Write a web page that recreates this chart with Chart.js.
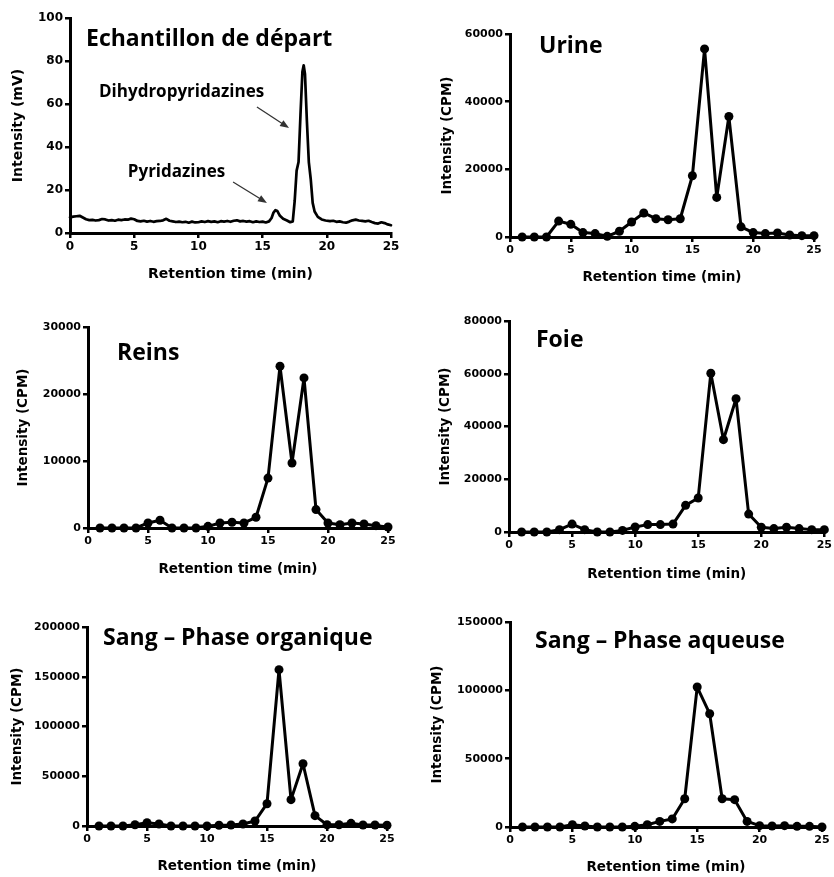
<!DOCTYPE html>
<html><head><meta charset="utf-8">
<script src="https://cdn.jsdelivr.net/npm/chart.js@4.4.1/dist/chart.umd.min.js"></script>
<style>
html,body{margin:0;padding:0;background:#fff;}
body{width:834px;height:877px;position:relative;overflow:hidden;}
canvas{position:absolute;}
</style></head><body>
<canvas id="c1"></canvas><canvas id="c2"></canvas><canvas id="c3"></canvas>
<canvas id="c4"></canvas><canvas id="c5"></canvas><canvas id="c6"></canvas>
<script>
// ---- Data ----
// Panel 1: continuous chromatogram (retention time in min, intensity in mV)
const startTime = [0,0.25,0.5,0.75,1,1.25,1.5,1.75,2,2.25,2.5,2.75,3,3.25,3.5,3.75,4,4.25,4.5,4.75,5,5.25,5.5,5.75,6,6.25,6.5,6.75,7,7.25,7.5,7.75,8,8.25,8.5,8.75,9,9.25,9.5,9.75,10,10.25,10.5,10.75,11,11.25,11.5,11.75,12,12.25,12.5,12.75,13,13.25,13.5,13.75,14,14.25,14.5,14.75,15,15.25,15.5,15.7,15.85,16,16.15,16.35,16.6,16.9,17.15,17.35,17.5,17.65,17.8,17.95,18.1,18.2,18.3,18.45,18.6,18.75,18.9,19.05,19.3,19.6,19.9,20.25,20.5,20.75,21,21.25,21.5,21.75,22,22.25,22.5,22.75,23,23.25,23.5,23.75,24,24.25,24.5,24.75,25];
const startSignal = [7.2,7.6,7.8,8.0,7.2,6.4,6.0,6.1,5.8,6.0,6.5,6.3,5.8,6.0,5.7,6.2,6.0,6.3,6.2,6.7,6.4,5.6,5.4,5.7,5.3,5.6,5.2,5.5,5.6,5.9,6.6,5.7,5.4,5.1,5.3,5.0,5.2,4.8,5.3,4.9,5.0,5.4,5.1,5.5,5.2,5.4,5.0,5.5,5.3,5.6,5.2,5.7,5.9,5.4,5.6,5.3,5.5,5.0,5.4,5.1,5.3,4.9,5.4,7.0,9.5,10.6,10.2,8.0,6.6,5.8,5.0,5.4,15,29,33,55,75,78,74,52,33,25,14,10,7.5,6.3,5.8,5.5,5.7,5.2,5.4,5.0,4.8,5.3,5.9,6.2,5.8,5.6,5.4,5.7,5.1,4.6,4.4,5.0,4.6,4.0,3.6];
// Panels 2-6: fractions (min) and radioactivity (CPM)
const fractions = [1,2,3,4,5,6,7,8,9,10,11,12,13,14,15,16,17,18,19,20,21,22,23,24,25];
const urine = [0,0,0,4700,3750,1300,1000,200,1700,4450,7100,5400,5100,5400,18100,55600,11700,35600,3000,1300,1000,1200,600,400,400];
const reins = [0,0,0,0,750,1150,0,0,0,250,750,850,750,1600,7450,24150,9700,22400,2750,750,500,750,600,350,150];
const foie = [0,0,0,900,3000,900,0,0,600,1900,2800,2800,3000,10100,12900,60200,35000,50500,6800,1800,1300,1800,1300,900,900];
const sangOrganique = [0,0,0,1300,3300,2000,0,0,0,0,700,1000,2000,5000,22400,157100,26500,62600,10400,1300,1300,2700,1000,1000,700];
const sangAqueuse = [0,0,0,0,1700,700,0,0,0,500,1700,4100,5900,20700,102400,82900,20700,20000,4100,1000,700,1000,500,500,0];
// Tick values
const xTicks = [0,5,10,15,20,25];
const yTicksStart = [0,20,40,60,80,100];
const yTicksUrine = [0,20000,40000,60000];
const yTicksReins = [0,10000,20000,30000];
const yTicksFoie = [0,20000,40000,60000,80000];
const yTicksSangOrg = [0,50000,100000,150000,200000];
const yTicksSangAq = [0,50000,100000,150000];
// Texts
const panelTitles = ["Echantillon de départ","Urine","Reins","Foie","Sang – Phase organique","Sang – Phase aqueuse"];
const xTitle = "Retention time (min)";
const yTitleMV = "Intensity (mV)";
const yTitleCPM = "Intensity (CPM)";

Chart.defaults.color = '#000';

const panelTitlePlugin = {
  id:'panelTitle',
  afterDraw(chart, args, o){
    if(!o || !o.text) return;
    const ctx = chart.ctx;
    ctx.save();
    ctx.fillStyle = '#000';
    ctx.font = 'bold ' + o.size + 'px "Open Sans"';
    ctx.textBaseline = 'alphabetic';
    ctx.textAlign = 'left';
    ctx.fillText(o.text, o.x, o.y);
    ctx.restore();
  }
};
const annotPlugin = {
  id:'annot',
  afterDraw(chart, args, o){
    if(!o || !o.items) return;
    const ctx = chart.ctx, xs = chart.scales.x, ys = chart.scales.y;
    ctx.save();
    for(const it of o.items){
      ctx.fillStyle = '#000';
      ctx.font = 'bold 17px "Open Sans"';
      ctx.textBaseline = 'alphabetic';
      ctx.fillText(it.label, xs.getPixelForValue(it.lx), ys.getPixelForValue(it.ly));
      const x1 = xs.getPixelForValue(it.a[0]), y1 = ys.getPixelForValue(it.a[1]);
      const x2 = xs.getPixelForValue(it.a[2]), y2 = ys.getPixelForValue(it.a[3]);
      const ang = Math.atan2(y2-y1, x2-x1);
      ctx.strokeStyle = '#333'; ctx.fillStyle = '#333'; ctx.lineWidth = 1.3;
      ctx.beginPath(); ctx.moveTo(x1,y1); ctx.lineTo(x2 - 6*Math.cos(ang), y2 - 6*Math.sin(ang)); ctx.stroke();
      ctx.beginPath();
      ctx.moveTo(x2,y2);
      ctx.lineTo(x2 - 9*Math.cos(ang) + 3.5*Math.sin(ang), y2 - 9*Math.sin(ang) - 3.5*Math.cos(ang));
      ctx.lineTo(x2 - 9*Math.cos(ang) - 3.5*Math.sin(ang), y2 - 9*Math.sin(ang) + 3.5*Math.cos(ang));
      ctx.closePath(); ctx.fill();
    }
    ctx.restore();
  }
};

function makePanel(id, cfg){
  const c = document.getElementById(id);
  c.width = cfg.box.w; c.height = cfg.box.h;
  c.style.left = cfg.box.left + 'px'; c.style.top = cfg.box.top + 'px';
  const A = {l: cfg.area.l - cfg.box.left, t: cfg.area.t - cfg.box.top, r: cfg.area.r - cfg.box.left, b: cfg.area.b - cfg.box.top};
  const lh = cfg.titleSize * 1.2;
  const padBottom = Math.max(0, cfg.box.h - lh/2 - (cfg.xTitleY - cfg.box.top));
  const padTopY = Math.max(0, (cfg.yTitleX - cfg.box.left) - lh/2);
  const tickFont = {family:'DejaVu Sans', weight:'bold', size: cfg.tickSize};
  const titleFont = {family:'DejaVu Sans', weight:'bold', size: cfg.titleSize, lineHeight: 1.2};
  const axisCommon = {
    grid:{display:true, drawOnChartArea:false, drawTicks:true, tickLength:5, lineWidth:2.5, color:'#000'},
    border:{display:true, width:3, color:'#000'}
  };
  return new Chart(c, {
    type:'line',
    data:{datasets:[{
      data: cfg.xs.map((x,i)=>({x:x, y:cfg.ys[i]})),
      borderColor:'#000', borderWidth: cfg.lineWidth, borderJoinStyle:'round', borderCapStyle:'round',
      pointRadius: cfg.pointRadius, pointBackgroundColor:'#000', pointBorderWidth:0,
      tension:0, fill:false, clip:false
    }]},
    plugins:[panelTitlePlugin, annotPlugin],
    options:{
      responsive:false, animation:false, devicePixelRatio:1, events:[],
      layout:{padding:{left:0, top:A.t, right: cfg.box.w - A.r, bottom:0}},
      plugins:{legend:{display:false}, tooltip:{enabled:false},
        panelTitle:{text:cfg.title, x:cfg.titlePos[0]-cfg.box.left, y:cfg.titlePos[1]-cfg.box.top, size:23},
        annot:{items: cfg.annot || null}
      },
      scales:{
        x:Object.assign({}, axisCommon, {
          type:'linear', min:0, max:25,
          afterBuildTicks: s => { s.ticks = cfg.xTicks.map(v=>({value:v})); },
          afterFit: s => { s.height = cfg.box.h - A.b; },
          ticks:{font:tickFont, color:'#000', padding:2, maxRotation:0, autoSkip:false, callback:v=>String(v)},
          title:{display:true, text:xTitle, font:titleFont, color:'#000', padding:{top:0, bottom:padBottom}}
        }),
        y:Object.assign({}, axisCommon, {
          type:'linear', min:0, max:cfg.yTicks[cfg.yTicks.length-1],
          afterBuildTicks: s => { s.ticks = cfg.yTicks.map(v=>({value:v})); },
          afterFit: s => { s.width = A.l; },
          ticks:{font:tickFont, color:'#000', padding:2, autoSkip:false, callback:v=>String(v)},
          title:{display:true, text:cfg.yTitle, font:titleFont, color:'#000', padding:{top:padTopY, bottom:0}}
        })
      }
    }
  });
}

makePanel('c1', {box:{left:0,top:0,w:410,h:290}, area:{l:70,t:18,r:391,b:233}, xTitleY:274, yTitleX:18,
  tickSize:12, titleSize:14, xs:startTime, ys:startSignal, lineWidth:2.7, pointRadius:0,
  xTicks:xTicks, yTicks:yTicksStart, yTitle:yTitleMV, title:panelTitles[0], titlePos:[86,46],
  annot:[{label:'Dihydropyridazines', lx:2.26, ly:63.3, a:[14.56,58.6,17.06,48.8]},
         {label:'Pyridazines', lx:4.5, ly:26, a:[12.7,23.7,15.34,14.0]}]});
makePanel('c2', {box:{left:410,top:0,w:424,h:290}, area:{l:510,t:34,r:814,b:237}, xTitleY:277.5, yTitleX:447,
  tickSize:11, titleSize:13.5, xs:fractions, ys:urine, lineWidth:3, pointRadius:4.5,
  xTicks:xTicks, yTicks:yTicksUrine, yTitle:yTitleCPM, title:panelTitles[1], titlePos:[539,53]});
makePanel('c3', {box:{left:0,top:290,w:410,h:300}, area:{l:88,t:327,r:388,b:528}, xTitleY:569, yTitleX:23,
  tickSize:11, titleSize:13.5, xs:fractions, ys:reins, lineWidth:3, pointRadius:4.5,
  xTicks:xTicks, yTicks:yTicksReins, yTitle:yTitleCPM, title:panelTitles[2], titlePos:[117,360]});
makePanel('c4', {box:{left:410,top:290,w:424,h:300}, area:{l:509,t:321,r:825,b:532}, xTitleY:574, yTitleX:445,
  tickSize:11, titleSize:13.5, xs:fractions, ys:foie, lineWidth:3, pointRadius:4.5,
  xTicks:xTicks, yTicks:yTicksFoie, yTitle:yTitleCPM, title:panelTitles[3], titlePos:[536,347]});
makePanel('c5', {box:{left:0,top:580,w:410,h:297}, area:{l:87,t:627,r:387,b:826}, xTitleY:866, yTitleX:17,
  tickSize:11, titleSize:13.5, xs:fractions, ys:sangOrganique, lineWidth:3, pointRadius:4.5,
  xTicks:xTicks, yTicks:yTicksSangOrg, yTitle:yTitleCPM, title:panelTitles[4], titlePos:[103,645]});
makePanel('c6', {box:{left:410,top:580,w:424,h:297}, area:{l:510,t:622,r:822,b:827}, xTitleY:867, yTitleX:437,
  tickSize:11, titleSize:13.5, xs:fractions, ys:sangAqueuse, lineWidth:3, pointRadius:4.5,
  xTicks:xTicks, yTicks:yTicksSangAq, yTitle:yTitleCPM, title:panelTitles[5], titlePos:[535,648]});
</script>
</body></html>
